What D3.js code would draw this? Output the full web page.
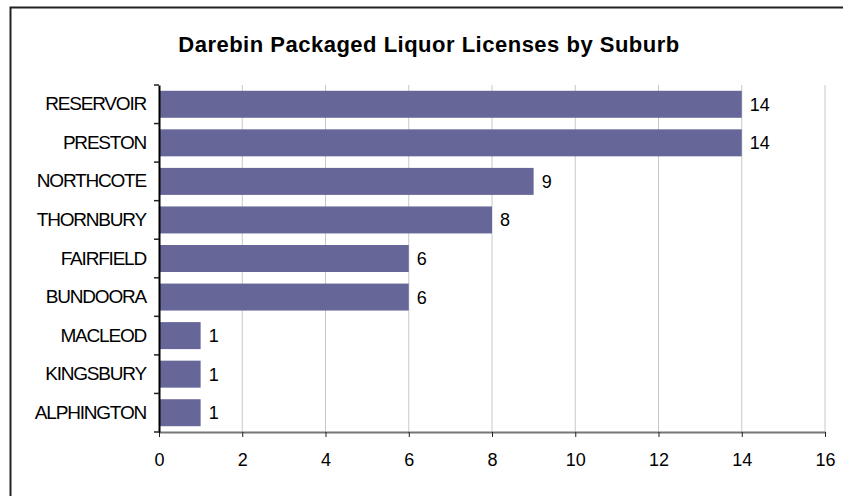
<!DOCTYPE html>
<html lang="en">
<head>
  <meta charset="UTF-8">
  <title>Darebin Packaged Liquor Licenses by Suburb</title>
  <style>
    body { margin: 0; background: #fff; }
    text { font-family: Arial, "Liberation Sans", sans-serif; fill: #000; }
  </style>
</head>
<body>
  <svg></svg>
  <script src="https://cdn.jsdelivr.net/npm/d3@7"></script>
  <script>
    const suburbs = ["RESERVOIR", "PRESTON", "NORTHCOTE", "THORNBURY", "FAIRFIELD", "BUNDOORA", "MACLEOD", "KINGSBURY", "ALPHINGTON"]
    const licenses = [14, 14, 9, 8, 6, 6, 1, 1, 1]
    const xTicks = [0, 2, 4, 6, 8, 10, 12, 14, 16]

    const data = suburbs.map((s, i) => ({suburb: s, value: licenses[i]}))

    var width = 843
    var height = 496
    var plotLeft = 159, plotRight = 825, plotTop = 85, plotBottom = 432

    var svg = d3.select("svg")
      .attr("width", width)
      .attr("height", height)

    // chart frame (right and bottom edges fall outside the picture)
    svg.append("rect")
      .attr("x", 10.5).attr("y", 7.5)
      .attr("width", 900).attr("height", 600)
      .attr("fill", "none")
      .attr("stroke", "#222")
      .attr("stroke-width", 2)

    svg.append("text")
      .attr("x", 429).attr("y", 52)
      .attr("text-anchor", "middle")
      .attr("font-size", 22)
      .attr("font-weight", "bold")
      .attr("letter-spacing", 0.5)
      .text("Darebin Packaged Liquor Licenses by Suburb")

    var x = d3.scaleLinear()
      .domain([0, 16])
      .range([plotLeft, plotRight])

    var y = d3.scaleBand()
      .domain(suburbs)
      .range([plotTop, plotBottom])
      .paddingInner(0.3)
      .paddingOuter(0.15)

    // vertical gridlines
    svg.append("g")
      .selectAll("line")
      .data(xTicks.slice(1))
      .join("line")
      .attr("x1", d => x(d)).attr("x2", d => x(d))
      .attr("y1", plotTop).attr("y2", plotBottom)
      .attr("stroke", "#c8c8c8")
      .attr("stroke-width", 1)

    svg.append("g")
      .selectAll("rect")
      .data(data)
      .join("rect")
      .attr("x", x(0))
      .attr("y", d => y(d.suburb))
      .attr("width", d => x(d.value) - x(0))
      .attr("height", y.bandwidth())
      .attr("fill", "#666699")

    svg.append("g")
      .selectAll("text")
      .data(data)
      .join("text")
      .attr("x", d => x(d.value) + 8)
      .attr("y", d => y(d.suburb) + y.bandwidth() / 2)
      .attr("dy", "0.36em")
      .attr("font-size", 18)
      .text(d => d.value)

    // x axis
    var xAxis = svg.append("g")
      .attr("transform", `translate(0, ${plotBottom})`)
      .call(d3.axisBottom(x).tickValues(xTicks).tickSize(5).tickPadding(16).tickSizeOuter(0))
    xAxis.select(".domain").attr("stroke", "#777").attr("stroke-width", 2)
    xAxis.selectAll(".tick line").attr("stroke", "#222")
    xAxis.selectAll("text").attr("font-size", 18).attr("font-family", null)

    // y axis: ticks sit between categories
    var yAxis = svg.append("g")
      .attr("transform", `translate(${plotLeft}, 0)`)
      .call(d3.axisLeft(y).tickSize(0).tickPadding(13))
    yAxis.select(".domain").attr("stroke", "#000").attr("stroke-width", 2)
    yAxis.selectAll("text").attr("font-size", 19).attr("font-family", null).attr("letter-spacing", -1.2)

    var step = y.step()
    svg.append("g")
      .selectAll("line")
      .data(d3.range(suburbs.length + 1))
      .join("line")
      .attr("x1", plotLeft - 5).attr("x2", plotLeft)
      .attr("y1", i => plotTop + i * step).attr("y2", i => plotTop + i * step)
      .attr("stroke", "#222")
      .attr("stroke-width", 1.5)
  </script>
</body>
</html>
